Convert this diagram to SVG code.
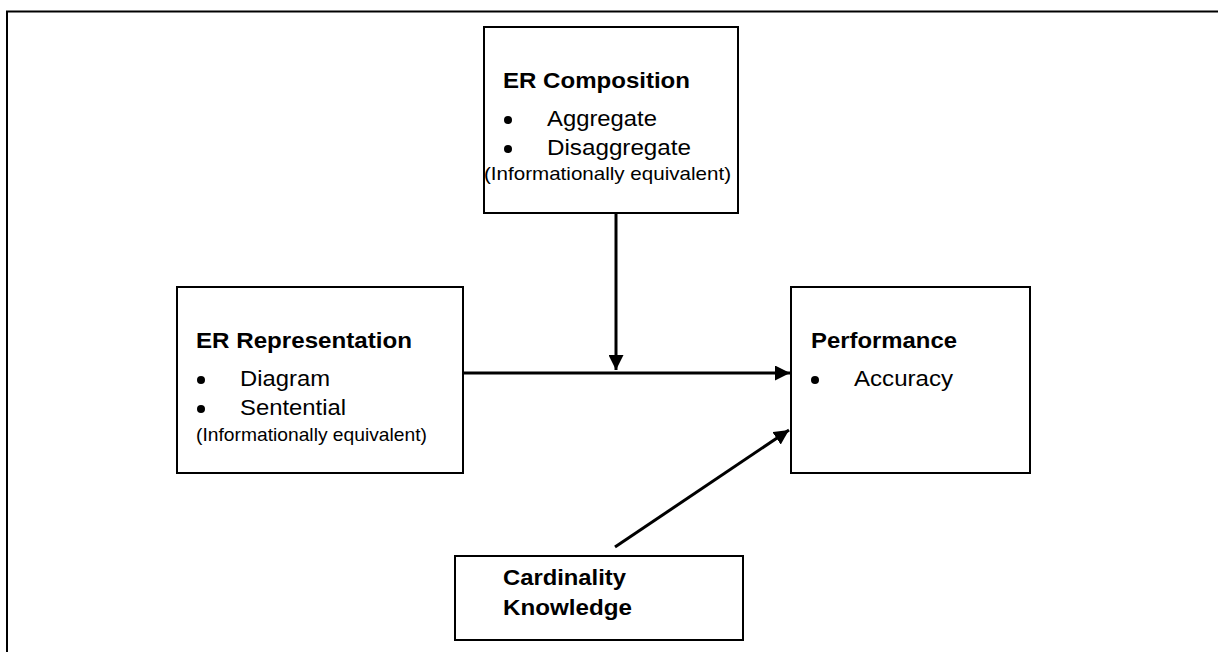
<svg xmlns="http://www.w3.org/2000/svg" width="1218" height="652" viewBox="0 0 1218 652">
<style>
.box{fill:#fff;stroke:#000;stroke-width:2}
.t{font-family:"Liberation Sans",Arial,sans-serif;font-size:22px;fill:#000}
.b{font-weight:bold}
.s{font-size:19px}
.conn{stroke:#000;stroke-width:3;fill:none}
</style>
<defs>
<marker id="ah" markerUnits="strokeWidth" markerWidth="5" markerHeight="5" refX="5" refY="2.5" orient="auto">
<path d="M0,0 L5,2.5 L0,5 z" fill="#000"/>
</marker>
</defs>
<rect width="1218" height="652" fill="#fff"/>
<path d="M7,652 V11.5 H1218" fill="none" stroke="#000" stroke-width="2"/>
<g id="composition">
<rect class="box" x="484" y="27" width="254" height="186"/>
<text class="t b" x="503" y="88" textLength="187" lengthAdjust="spacingAndGlyphs">ER Composition</text>
<circle cx="508" cy="120" r="4"/>
<text class="t" x="547" y="126" textLength="110" lengthAdjust="spacingAndGlyphs">Aggregate</text>
<circle cx="508" cy="149" r="4"/>
<text class="t" x="547" y="155" textLength="144" lengthAdjust="spacingAndGlyphs">Disaggregate</text>
<text class="t s" x="484" y="180" textLength="247" lengthAdjust="spacingAndGlyphs">(Informationally equivalent)</text>
</g>
<g id="representation">
<rect class="box" x="177" y="287" width="286" height="186"/>
<text class="t b" x="196" y="348" textLength="216" lengthAdjust="spacingAndGlyphs">ER Representation</text>
<circle cx="201" cy="380" r="4"/>
<text class="t" x="240" y="386" textLength="90" lengthAdjust="spacingAndGlyphs">Diagram</text>
<circle cx="201" cy="409" r="4"/>
<text class="t" x="240" y="415" textLength="106" lengthAdjust="spacingAndGlyphs">Sentential</text>
<text class="t s" x="196" y="441" textLength="231" lengthAdjust="spacingAndGlyphs">(Informationally equivalent)</text>
</g>
<g id="performance">
<rect class="box" x="791" y="287" width="239" height="186"/>
<text class="t b" x="811" y="348" textLength="146" lengthAdjust="spacingAndGlyphs">Performance</text>
<circle cx="815" cy="380" r="4"/>
<text class="t" x="854" y="386" textLength="99" lengthAdjust="spacingAndGlyphs">Accuracy</text>
</g>
<g id="cardinality">
<rect class="box" x="455" y="556" width="288" height="84"/>
<text class="t b" x="503" y="585" textLength="123" lengthAdjust="spacingAndGlyphs">Cardinality</text>
<text class="t b" x="503" y="615" textLength="129" lengthAdjust="spacingAndGlyphs">Knowledge</text>
</g>
<g id="connectors">
<line class="conn" x1="616" y1="213" x2="616" y2="370" marker-end="url(#ah)"/>
<line class="conn" x1="463" y1="373" x2="790" y2="373" marker-end="url(#ah)"/>
<line class="conn" x1="615" y1="547" x2="789" y2="430" marker-end="url(#ah)"/>
</g>
</svg>
